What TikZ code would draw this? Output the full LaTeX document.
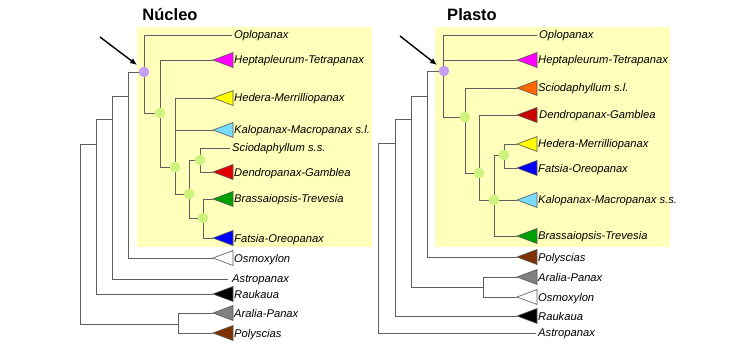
\documentclass[tikz,border=0pt]{standalone}
\usepackage{fontspec}
\setmainfont{Liberation Sans}
\usetikzlibrary{arrows.meta}
\definecolor{boxyellow}{RGB}{255,255,187}
\definecolor{nodepurple}{RGB}{195,160,245}
\definecolor{nodegreen}{RGB}{205,242,125}
\definecolor{branch}{RGB}{95,95,95}
\definecolor{cmagenta}{RGB}{255,0,255}
\definecolor{cyellow}{RGB}{255,255,0}
\definecolor{ccyan}{RGB}{120,220,255}
\definecolor{cred}{RGB}{225,0,0}
\definecolor{cgreen}{RGB}{0,160,0}
\definecolor{cblue}{RGB}{0,0,255}
\definecolor{cgrey}{RGB}{128,128,128}
\definecolor{cbrown}{RGB}{125,50,0}
\definecolor{corange}{RGB}{255,102,0}
\definecolor{cdarkred}{RGB}{200,0,0}
\newcommand\drawclade[2]{\filldraw[tri,fill=#2] (#1) -- ++(20,-7.5) -- ++(0,15) -- cycle;}
\begin{document}
\begin{tikzpicture}[x=1pt,y=-1pt,
  branchline/.style={draw=branch,line width=0.9pt},
  tri/.style={draw=black!65,line width=0.6pt,line join=miter},
  pnode/.style={circle,fill=nodepurple,inner sep=0pt,minimum size=10.6pt,draw=none},
  gnode/.style={circle,fill=nodegreen,inner sep=0pt,minimum size=10.6pt,draw=none},
  lab/.style={anchor=base west,inner sep=0pt,font=\fontsize{11.2}{13.4}\selectfont\itshape},
  ttl/.style={inner sep=0pt,font=\fontsize{16.5}{19}\selectfont\bfseries},
  pointer/.style={draw=black,line width=1.4pt,-{Latex[length=7pt,width=6pt]}},
  hilite/.style={fill=boxyellow,draw=none}]
\useasboundingbox (0,0) rectangle (750,350);
% highlight boxes
\fill[hilite] (137,27) rectangle (372,247);
\fill[hilite] (435,27) rectangle (670,247);
% ---------- left tree coordinates ----------
\coordinate (rL) at (80,234);
\coordinate (aL) at (96,144);
\coordinate (bL) at (112,119);
\coordinate (cL) at (128,96);
\coordinate (coreL) at (144,72);
\coordinate (n1L) at (160,113);
\coordinate (n2L) at (175,167);
\coordinate (n3L) at (189,194);
\coordinate (n4L) at (200,160);
\coordinate (n5L) at (203,218);
\coordinate (paL) at (178,324);
\coordinate (oploL) at (232,35);
\coordinate (hepL) at (213,60);
\coordinate (hedL) at (213,98);
\coordinate (kalL) at (213,130);
\coordinate (sciL) at (230,148);
\coordinate (denL) at (213,172);
\coordinate (braL) at (213,199);
\coordinate (fatL) at (213,238);
\coordinate (osmL) at (213,258);
\coordinate (astL) at (228,279);
\coordinate (rauL) at (213,294);
\coordinate (araL) at (213,313);
\coordinate (polL) at (213,333);
% ---------- right tree coordinates ----------
\coordinate (rR) at (378,238);
\coordinate (dR) at (395,143);
\coordinate (eR) at (411,119);
\coordinate (fR) at (427,96);
\coordinate (coreR) at (443,71);
\coordinate (m1R) at (465,117);
\coordinate (m2R) at (479,173);
\coordinate (m3R) at (494,200);
\coordinate (m4R) at (504,155);
\coordinate (aoR) at (483,287);
\coordinate (oploR) at (537,35);
\coordinate (hepR) at (517,60);
\coordinate (sciR) at (517,88);
\coordinate (denR) at (517,115);
\coordinate (hedR) at (517,144);
\coordinate (fatR) at (517,168);
\coordinate (kalR) at (517,200);
\coordinate (braR) at (517,236);
\coordinate (polR) at (517,257);
\coordinate (araR) at (517,277);
\coordinate (osmR) at (517,297);
\coordinate (rauR) at (517,316);
\coordinate (astR) at (536,333);
% ---------- branches ----------
\draw[branchline]
  (rL) |- (aL)  (rL) |- (paL)
  (aL) |- (bL)  (aL) |- (rauL)
  (bL) |- (cL)  (bL) |- (astL)
  (cL) |- (coreL)  (cL) |- (osmL)
  (coreL) |- (oploL)  (coreL) |- (n1L)
  (n1L) |- (hepL)  (n1L) |- (n2L)
  (n2L) |- (hedL)  (n2L) |- (kalL)  (n2L) |- (n3L)
  (n3L) |- (n4L)  (n3L) |- (n5L)
  (n4L) |- (sciL)  (n4L) |- (denL)
  (n5L) |- (braL)  (n5L) |- (fatL)
  (paL) |- (araL)  (paL) |- (polL);
\draw[branchline]
  (rR) |- (dR)  (rR) |- (astR)
  (dR) |- (eR)  (dR) |- (rauR)
  (eR) |- (fR)  (eR) |- (aoR)
  (fR) |- (coreR)  (fR) |- (polR)
  (coreR) |- (oploR)  (coreR) |- (hepR)  (coreR) |- (m1R)
  (m1R) |- (sciR)  (m1R) |- (m2R)
  (m2R) |- (denR)  (m2R) |- (m3R)
  (m3R) |- (m4R)  (m3R) |- (kalR)  (m3R) |- (braR)
  (m4R) |- (hedR)  (m4R) |- (fatR)
  (aoR) |- (araR)  (aoR) |- (osmR);
% ---------- collapsed clades ----------
\drawclade{hepL}{cmagenta}
\drawclade{hedL}{cyellow}
\drawclade{kalL}{ccyan}
\drawclade{denL}{cred}
\drawclade{braL}{cgreen}
\drawclade{fatL}{cblue}
\drawclade{osmL}{white}
\drawclade{rauL}{black}
\drawclade{araL}{cgrey}
\drawclade{polL}{cbrown}
\drawclade{hepR}{cmagenta}
\drawclade{sciR}{corange}
\drawclade{denR}{cdarkred}
\drawclade{hedR}{cyellow}
\drawclade{fatR}{cblue}
\drawclade{kalR}{ccyan}
\drawclade{braR}{cgreen}
\drawclade{polR}{cbrown}
\drawclade{araR}{cgrey}
\drawclade{osmR}{white}
\drawclade{rauR}{black}
% ---------- node dots ----------
\node[pnode] (dotcoreL) at (coreL) {};
\node[gnode] (dotn1L) at (n1L) {};
\node[gnode] (dotn2L) at (n2L) {};
\node[gnode] (dotn3L) at (n3L) {};
\node[gnode] (dotn4L) at (n4L) {};
\node[gnode] (dotn5L) at (n5L) {};
\node[pnode] (dotcoreR) at ([xshift=1pt]coreR) {};
\node[gnode] (dotm1R) at (m1R) {};
\node[gnode] (dotm2R) at (m2R) {};
\node[gnode] (dotm3R) at (m3R) {};
\node[gnode] (dotm4R) at (m4R) {};
% ---------- labels left ----------
\node[lab] (toploL) at ([shift={(2,3.5)}]oploL) {Oplopanax};
\node[lab] (thepL) at ([shift={(21,4)}]hepL) {Heptapleurum-Tetrapanax};
\node[lab] (thedL) at ([shift={(21,4)}]hedL) {Hedera-Merrilliopanax};
\node[lab] (tkalL) at ([shift={(21,4)}]kalL) {Kalopanax-Macropanax s.l.};
\node[lab] (tsciL) at ([shift={(2,4)}]sciL) {Sciodaphyllum s.s.};
\node[lab] (tdenL) at ([shift={(21,4)}]denL) {Dendropanax-Gamblea};
\node[lab] (tbraL) at ([shift={(21,4)}]braL) {Brassaiopsis-Trevesia};
\node[lab] (tfatL) at ([shift={(21,4)}]fatL) {Fatsia-Oreopanax};
\node[lab] (tosmL) at ([shift={(21,4)}]osmL) {Osmoxylon};
\node[lab] (tastL) at ([shift={(4,3.5)}]astL) {Astropanax};
\node[lab] (trauL) at ([shift={(21,4)}]rauL) {Raukaua};
\node[lab] (taraL) at ([shift={(21,4)}]araL) {Aralia-Panax};
\node[lab] (tpolL) at ([shift={(21,4)}]polL) {Polyscias};
% ---------- labels right ----------
\node[lab] (toploR) at ([shift={(2,3.5)}]oploR) {Oplopanax};
\node[lab] (thepR) at ([shift={(21,4)}]hepR) {Heptapleurum-Tetrapanax};
\node[lab] (tsciR) at ([shift={(21,4)}]sciR) {Sciodaphyllum s.l.};
\node[lab] (tdenR) at ([shift={(22,4)}]denR) {Dendropanax-Gamblea};
\node[lab] (thedR) at ([shift={(21,4)}]hedR) {Hedera-Merrilliopanax};
\node[lab] (tfatR) at ([shift={(21,4)}]fatR) {Fatsia-Oreopanax};
\node[lab] (tkalR) at ([shift={(21,4)}]kalR) {Kalopanax-Macropanax s.s.};
\node[lab] (tbraR) at ([shift={(21,4)}]braR) {Brassaiopsis-Trevesia};
\node[lab] (tpolR) at ([shift={(21,4)}]polR) {Polyscias};
\node[lab] (taraR) at ([shift={(21,4)}]araR) {Aralia-Panax};
\node[lab] (tosmR) at ([shift={(21,4)}]osmR) {Osmoxylon};
\node[lab] (trauR) at ([shift={(21,4)}]rauR) {Raukaua};
\node[lab] (tastR) at ([shift={(2,3.5)}]astR) {Astropanax};
% ---------- titles ----------
\node[ttl] (titleL) at (170,15) {Núcleo};
\node[ttl] (titleR) at (472,15) {Plasto};
% ---------- arrows ----------
\coordinate (arL1) at (100,37);
\coordinate (arL2) at (137,65);
\coordinate (arR1) at (400,36);
\coordinate (arR2) at (437,65);
\draw[pointer] (arL1) -- (arL2);
\draw[pointer] (arR1) -- (arR2);
\end{tikzpicture}
\end{document}
